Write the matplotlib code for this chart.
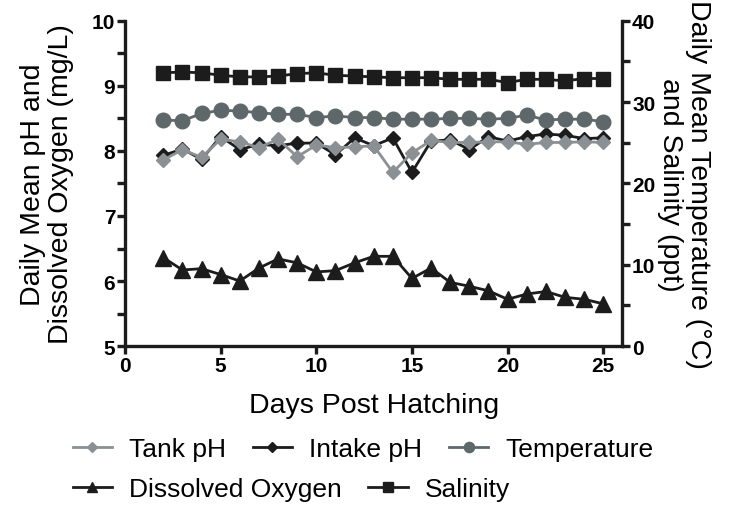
import matplotlib
matplotlib.use("Agg")
import matplotlib.pyplot as plt
from matplotlib.ticker import MultipleLocator

plt.rcParams['font.family'] = ['Liberation Sans', 'DejaVu Sans']

# daily means, days 2-25 post hatching
days = list(range(2, 26))
tank_ph = [7.86, 8.02, 7.90, 8.18, 8.14, 8.05, 8.18, 7.91, 8.09, 8.05, 8.06, 8.08,
           7.67, 7.97, 8.16, 8.13, 8.13, 8.14, 8.14, 8.10, 8.13, 8.13, 8.14, 8.13]
intake_ph = [7.93, 8.03, 7.87, 8.22, 8.02, 8.10, 8.08, 8.12, 8.12, 7.94, 8.20, 8.08,
             8.20, 7.67, 8.15, 8.17, 8.02, 8.22, 8.15, 8.22, 8.26, 8.24, 8.19, 8.20]
dissolved_oxygen = [6.36, 6.17, 6.19, 6.10, 6.00, 6.20, 6.34, 6.28, 6.14, 6.16, 6.28, 6.38,
                    6.38, 6.04, 6.20, 5.98, 5.92, 5.85, 5.72, 5.80, 5.84, 5.75, 5.72, 5.65]
temperature = [27.8, 27.7, 28.6, 29.0, 28.9, 28.7, 28.5, 28.5, 28.1, 28.3, 28.1, 28.1,
               27.9, 27.9, 27.9, 28.0, 28.0, 27.9, 28.0, 28.4, 27.8, 27.9, 27.9, 27.6]
salinity = [33.6, 33.7, 33.6, 33.3, 33.1, 33.1, 33.2, 33.5, 33.6, 33.3, 33.2, 33.1,
            33.0, 33.0, 33.0, 32.8, 32.8, 32.8, 32.4, 32.8, 32.8, 32.6, 32.9, 32.9]

black = '#1c1c1c'
grey_light = '#8b9094'
grey_dark = '#5e686b'

fig = plt.figure(figsize=(7.4, 5.06), dpi=100)
ax = fig.add_axes([0.169, 0.314, 0.672, 0.643])
ax2 = ax.twinx()

lw = 2.0
l_intake, = ax.plot(days, intake_ph, color=black, marker='D', ms=7, lw=lw, zorder=3)
l_tank, = ax.plot(days, tank_ph, color=grey_light, marker='D', ms=7, lw=lw, zorder=4)
l_do, = ax.plot(days, dissolved_oxygen, color=black, marker='^', ms=11, lw=lw, zorder=3)
l_temp, = ax2.plot(days, temperature, color=grey_dark, marker='o', ms=10.5, lw=lw)
l_sal, = ax2.plot(days, salinity, color=black, marker='s', ms=10.5, lw=lw)

ax.set_xlim(0, 26)
ax.set_ylim(5, 10)
ax2.set_ylim(0, 40)
ax.xaxis.set_major_locator(MultipleLocator(5))
ax.yaxis.set_major_locator(MultipleLocator(1))
ax.yaxis.set_minor_locator(MultipleLocator(0.5))
ax2.yaxis.set_major_locator(MultipleLocator(10))
ax2.yaxis.set_minor_locator(MultipleLocator(5))

for a in (ax, ax2):
    a.spines['top'].set_visible(False)
    for s in a.spines.values():
        s.set_linewidth(2.4)
        s.set_color(black)
    a.tick_params(which='both', direction='out', length=6, width=2.4, color=black,
                  labelsize=15, pad=1)
    for t in a.get_xticklabels() + a.get_yticklabels():
        t.set_fontweight('bold')
ax.spines['right'].set_visible(False)
ax2.spines['left'].set_visible(False)
ax2.spines['bottom'].set_visible(False)

ax.set_xlabel('Days Post Hatching', fontsize=20.5, labelpad=12)
ax.set_ylabel('Daily Mean pH and\nDissolved Oxygen (mg/L)', fontsize=20.5,
              labelpad=13, linespacing=1.1)
ax2.set_ylabel('Daily Mean Temperature (°C)\nand Salinity (ppt)', fontsize=20.5,
               rotation=270, labelpad=40, linespacing=1.1)

leg_kw = dict(frameon=False, fontsize=19, handlelength=1.5, handletextpad=0.65,
              columnspacing=1.0, borderpad=0, borderaxespad=0, markerscale=0.7)
fig.legend([l_tank, l_intake, l_temp], ['Tank pH', 'Intake pH', 'Temperature'],
           loc='center left', bbox_to_anchor=(0.098, 0.11), ncol=3, **leg_kw)
fig.legend([l_do, l_sal], ['Dissolved Oxygen', 'Salinity'],
           loc='center left', bbox_to_anchor=(0.098, 0.032), ncol=2, **leg_kw)

fig.savefig('out.png', dpi=100)
